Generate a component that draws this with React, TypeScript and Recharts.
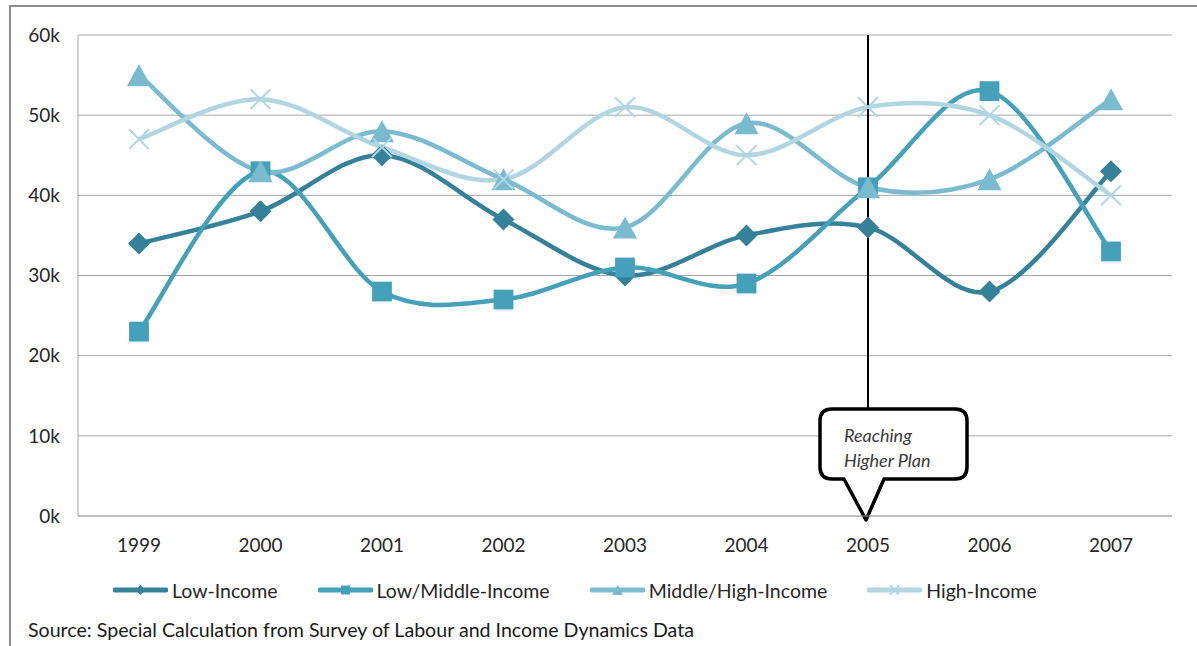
import React from 'react';
import { LineChart, Line, XAxis, YAxis, CartesianGrid, ReferenceLine } from 'recharts';

const years = ['1999', '2000', '2001', '2002', '2003', '2004', '2005', '2006', '2007'];
const lowIncome = [34000, 38000, 45000, 37000, 30000, 35000, 36000, 28000, 43000];
const lowMiddleIncome = [23000, 43000, 28000, 27000, 31000, 29000, 41000, 53000, 33000];
const middleHighIncome = [55000, 43000, 48000, 42000, 36000, 49000, 41000, 42000, 52000];
const highIncome = [47000, 52000, 46000, 42000, 51000, 45000, 51000, 50000, 40000];
const yTicks = [0, 10000, 20000, 30000, 40000, 50000, 60000];

const data = years.map((year, i) => ({
  year,
  low: lowIncome[i],
  lowMid: lowMiddleIncome[i],
  midHigh: middleHighIncome[i],
  high: highIncome[i],
}));

type Shape = 'diamond' | 'square' | 'triangle' | 'cross';

const series: { key: string; name: string; color: string; shape: Shape }[] = [
  { key: 'low', name: 'Low-Income', color: '#35819a', shape: 'diamond' },
  { key: 'lowMid', name: 'Low/Middle-Income', color: '#45a1b9', shape: 'square' },
  { key: 'midHigh', name: 'Middle/High-Income', color: '#7bbbd0', shape: 'triangle' },
  { key: 'high', name: 'High-Income', color: '#b2d6e1', shape: 'cross' },
];

const FONT = 'Lato, "Open Sans", sans-serif';

// Excel-style smoothed line (Catmull-Rom through every point)
const excelSmooth = (context: any) => {
  let pts: number[][] = [];
  return {
    areaStart() {},
    areaEnd() {},
    lineStart() {
      pts = [];
    },
    point(x: number, y: number) {
      pts.push([+x, +y]);
    },
    lineEnd() {
      if (!pts.length) return;
      context.moveTo(pts[0][0], pts[0][1]);
      for (let i = 0; i < pts.length - 1; i++) {
        const p0 = pts[Math.max(i - 1, 0)];
        const p1 = pts[i];
        const p2 = pts[i + 1];
        const p3 = pts[Math.min(i + 2, pts.length - 1)];
        context.bezierCurveTo(
          p1[0] + (p2[0] - p0[0]) / 6,
          p1[1] + (p2[1] - p0[1]) / 6,
          p2[0] - (p3[0] - p1[0]) / 6,
          p2[1] - (p3[1] - p1[1]) / 6,
          p2[0],
          p2[1]
        );
      }
    },
  };
};

const marker = (shape: Shape, cx: number, cy: number, s: number, color: string, key?: string) => {
  switch (shape) {
    case 'diamond':
      return <path key={key} d={`M${cx},${cy - s}L${cx + s},${cy}L${cx},${cy + s}L${cx - s},${cy}Z`} fill={color} />;
    case 'square':
      return <rect key={key} x={cx - s * 0.9} y={cy - s * 0.9} width={s * 1.8} height={s * 1.8} fill={color} />;
    case 'triangle':
      return <path key={key} d={`M${cx},${cy - s}L${cx + s * 1.1},${cy + s}L${cx - s * 1.1},${cy + s}Z`} fill={color} />;
    default:
      return (
        <path
          key={key}
          d={`M${cx - s * 0.9},${cy - s * 0.9}L${cx + s * 0.9},${cy + s * 0.9}M${cx + s * 0.9},${cy - s * 0.9}L${cx - s * 0.9},${cy + s * 0.9}`}
          stroke={color}
          strokeWidth={2}
          fill="none"
        />
      );
  }
};

const makeDot = (shape: Shape, color: string) => (p: any) => {
  const { cx, cy, index } = p;
  if (cx == null || cy == null) return <g key={`e-${index}`} />;
  return marker(shape, cx, cy, 11, color, `${shape}-${index}`);
};

const renderCallout = (props: any) => {
  const vb = props.viewBox || {};
  const x = vb.x;
  const bottom = vb.y + vb.height;
  const L = x - 48;
  const R = x + 99;
  const T = bottom - 107;
  const B = bottom - 37;
  const r = 12;
  const d =
    `M${L + r},${T}H${R - r}Q${R},${T} ${R},${T + r}V${B - r}Q${R},${B} ${R - r},${B}` +
    `H${x + 16}L${x - 2},${bottom + 4}L${x - 24},${B}H${L + r}Q${L},${B} ${L},${B - r}V${T + r}Q${L},${T} ${L + r},${T}Z`;
  return (
    <g>
      <path d={d} fill="#fff" stroke="#000" strokeWidth={3.5} strokeLinejoin="round" />
      <text x={x - 24} y={T + 33} fontFamily={FONT} fontStyle="italic" fontSize={18} fill="#3a3a3a">
        Reaching
      </text>
      <text x={x - 24} y={T + 58} fontFamily={FONT} fontStyle="italic" fontSize={18} fill="#3a3a3a">
        Higher Plan
      </text>
    </g>
  );
};

const App = () => {
  return (
    <div style={{ position: 'fixed', inset: 0, overflow: 'hidden', background: '#fff', fontFamily: FONT }}>
      <div
        style={{
          position: 'absolute',
          left: 9,
          top: 5,
          width: 1400,
          height: 900,
          border: '2px solid #8c8c8c',
        }}
      />
      <div style={{ position: 'absolute', left: 0, top: 0 }}>
        <LineChart width={1197} height={560} data={data} margin={{ top: 35, right: 25, left: 0, bottom: 14 }}>
          <CartesianGrid vertical={false} stroke="#a6a6a6" />
          <XAxis
            dataKey="year"
            height={30}
            padding={{ left: 61, right: 61 }}
            tickLine={false}
            tickMargin={17}
            axisLine={{ stroke: '#a6a6a6' }}
            tick={{ fill: '#262626', fontSize: 19, fontFamily: FONT }}
          />
          <YAxis
            width={78}
            domain={[0, 60000]}
            ticks={yTicks}
            interval={0}
            tickLine={false}
            tickMargin={12}
            axisLine={{ stroke: '#a6a6a6' }}
            tickFormatter={(v: number) => `${v / 1000}k`}
            tick={{ fill: '#262626', fontSize: 19, fontFamily: FONT }}
          />
          {series.map((s) => (
            <Line
              key={s.key}
              dataKey={s.key}
              name={s.name}
              type={excelSmooth as any}
              stroke={s.color}
              strokeWidth={4.5}
              dot={makeDot(s.shape, s.color)}
              activeDot={false}
              isAnimationActive={false}
            />
          ))}
          <ReferenceLine x="2005" stroke="#000" strokeWidth={2} ifOverflow="visible" label={renderCallout} />
        </LineChart>
      </div>
      <div
        style={{
          position: 'absolute',
          left: 113,
          top: 578,
          display: 'flex',
          alignItems: 'center',
          fontSize: 19.5,
          color: '#262626',
          whiteSpace: 'nowrap',
        }}
      >
        {series.map((s) => (
          <div key={s.key} style={{ display: 'flex', alignItems: 'center', marginRight: 40 }}>
            <svg width={55} height={24} style={{ marginRight: 4 }}>
              <line x1={2} y1={12} x2={53} y2={12} stroke={s.color} strokeWidth={5} strokeLinecap="round" />
              {marker(s.shape, 27.5, 12, 5, s.color)}
            </svg>
            <span>{s.name}</span>
          </div>
        ))}
      </div>
      <div
        style={{
          position: 'absolute',
          left: 28,
          top: 618,
          fontSize: 19.6,
          color: '#1a1a1a',
          whiteSpace: 'nowrap',
        }}
      >
        Source: Special Calculation from Survey of Labour and Income Dynamics Data
      </div>
    </div>
  );
};

export default App;
